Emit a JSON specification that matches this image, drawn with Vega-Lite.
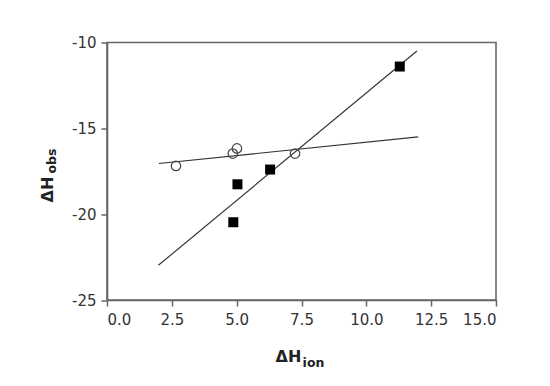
{
  "$schema": "https://vega.github.io/schema/vega-lite/v6.json",
  "width": 389,
  "height": 257.5,
  "autosize": "none",
  "padding": {"left": 107, "top": 42.5, "right": 54, "bottom": 86},
  "background": "white",
  "config": {
    "view": {"stroke": "#666", "strokeWidth": 1.6},
    "axis": {
      "domainColor": "#666", "domainWidth": 1.6, "tickColor": "#666", "tickWidth": 1.5, "tickSize": 6,
      "labelFont": "DejaVu Sans", "labelFontSize": 15, "labelColor": "#333",
      "titleFont": "DejaVu Sans", "titleFontWeight": "bold", "titleColor": "#222", "grid": false
    }
  },
  "data": {"values": [
    {"set": "open", "dHion": 2.66, "dHobs": -17.19},
    {"set": "open", "dHion": 4.85, "dHobs": -16.47},
    {"set": "open", "dHion": 5.01, "dHobs": -16.17},
    {"set": "open", "dHion": 7.25, "dHobs": -16.47},
    {"set": "filled", "dHion": 4.87, "dHobs": -20.47},
    {"set": "filled", "dHion": 5.03, "dHobs": -18.26},
    {"set": "filled", "dHion": 6.29, "dHobs": -17.4},
    {"set": "filled", "dHion": 11.29, "dHobs": -11.4},
    {"set": "fitOpen", "dHion": 2.0, "dHobs": -17.05},
    {"set": "fitOpen", "dHion": 12.0, "dHobs": -15.5},
    {"set": "fitFilled", "dHion": 1.98, "dHobs": -22.98},
    {"set": "fitFilled", "dHion": 11.95, "dHobs": -10.5}
  ]},
  "resolve": {"axis": {"x": "independent", "y": "independent"}},
  "layer": [
    {
      "transform": [{"filter": "datum.set === 'fitOpen' || datum.set === 'fitFilled'"}],
      "mark": {"type": "line", "stroke": "#333", "strokeWidth": 1.2},
      "encoding": {
        "x": {"field": "dHion", "type": "quantitative",
          "scale": {"domain": [0, 15], "nice": false, "zero": false},
          "axis": {"orient": "bottom", "values": [0, 2.5, 5, 7.5, 10, 12.5, 15], "format": ".1f", "labelPadding": 6,
            "title": "ΔH", "titleFontSize": 16, "titleX": 181, "titleY": 61, "titleBaseline": "alphabetic", "titleAlign": "center"}},
        "y": {"field": "dHobs", "type": "quantitative",
          "scale": {"domain": [-25, -10], "nice": false, "zero": false},
          "axis": {"orient": "left", "values": [-10, -15, -20, -25], "labelExpr": "'' + datum.value", "labelPadding": 5,
            "title": "ΔH", "titleFontSize": 16, "titleX": -55, "titleY": 146.5, "titleAngle": -90, "titleBaseline": "alphabetic", "titleAlign": "center"}},
        "detail": {"field": "set"}
      }
    },
    {
      "transform": [{"filter": "datum.set === 'open'"}],
      "mark": {"type": "point", "shape": "circle", "filled": false, "stroke": "#444", "strokeWidth": 1.2, "size": 90, "opacity": 1},
      "encoding": {
        "x": {"field": "dHion", "type": "quantitative", "axis": null},
        "y": {"field": "dHobs", "type": "quantitative", "axis": null}
      }
    },
    {
      "transform": [{"filter": "datum.set === 'filled'"}],
      "mark": {"type": "point", "shape": "square", "filled": true, "fill": "black", "size": 100, "opacity": 1},
      "encoding": {
        "x": {"field": "dHion", "type": "quantitative",
          "axis": {"orient": "bottom", "labels": false, "ticks": false, "domain": false,
            "title": "ion", "titleFontSize": 12.5, "titleX": 206, "titleY": 66, "titleBaseline": "alphabetic", "titleAlign": "center"}},
        "y": {"field": "dHobs", "type": "quantitative",
          "axis": {"orient": "left", "labels": false, "ticks": false, "domain": false,
            "title": "obs", "titleFontSize": 12.5, "titleX": -51.5, "titleY": 118, "titleAngle": -90, "titleBaseline": "alphabetic", "titleAlign": "center"}}
      }
    }
  ]
}
